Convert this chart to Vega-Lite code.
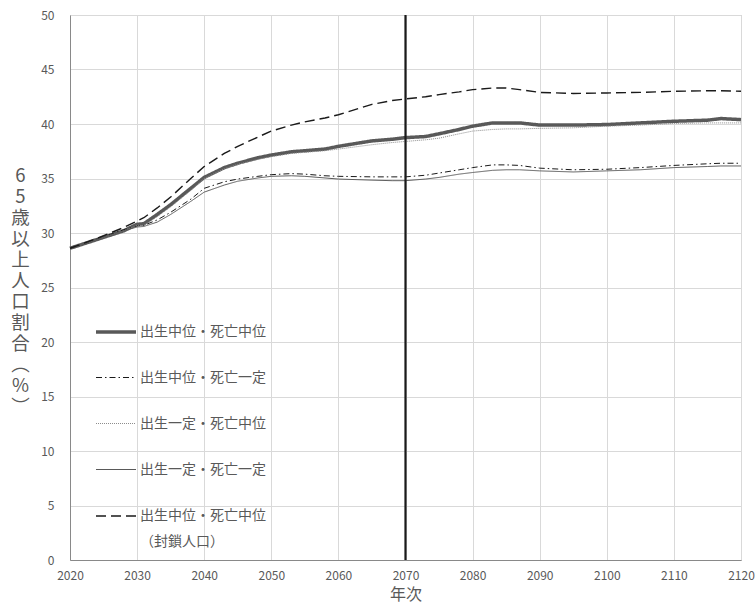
{
  "$schema": "https://vega.github.io/schema/vega-lite/v6.json",
  "width": 671,
  "height": 545,
  "autosize": "none",
  "padding": {"left": 70, "top": 15, "right": 14, "bottom": 46},
  "background": "white",
  "config": {
    "font": "Noto Sans CJK JP",
    "view": {"stroke": "#bfbfbf", "strokeWidth": 1},
    "axis": {"gridColor": "#d9d9d9", "gridWidth": 1, "domainColor": "#898989", "ticks": false, "labelColor": "#595959", "labelFont": "Noto Sans CJK JP", "labelFontSize": 12, "titleColor": "#595959", "titleFont": "Noto Sans CJK JP", "titleFontWeight": "normal"},
    "legend": {"labelFont": "Noto Sans CJK JP"}
  },
  "layer": [
    {
      "data": {"values": [
        {"year":2020,"series":"出生中位・死亡中位","value":28.6},{"year":2022,"series":"出生中位・死亡中位","value":29.0},{"year":2025,"series":"出生中位・死亡中位","value":29.6},{"year":2028,"series":"出生中位・死亡中位","value":30.2},{"year":2030,"series":"出生中位・死亡中位","value":30.8},{"year":2031,"series":"出生中位・死亡中位","value":30.85},{"year":2033,"series":"出生中位・死亡中位","value":31.7},{"year":2035,"series":"出生中位・死亡中位","value":32.6},{"year":2038,"series":"出生中位・死亡中位","value":34.1},{"year":2040,"series":"出生中位・死亡中位","value":35.1},{"year":2043,"series":"出生中位・死亡中位","value":36.0},{"year":2045,"series":"出生中位・死亡中位","value":36.4},{"year":2048,"series":"出生中位・死亡中位","value":36.9},{"year":2050,"series":"出生中位・死亡中位","value":37.15},{"year":2053,"series":"出生中位・死亡中位","value":37.45},{"year":2055,"series":"出生中位・死亡中位","value":37.55},{"year":2058,"series":"出生中位・死亡中位","value":37.7},{"year":2060,"series":"出生中位・死亡中位","value":37.95},{"year":2065,"series":"出生中位・死亡中位","value":38.45},{"year":2068,"series":"出生中位・死亡中位","value":38.6},{"year":2070,"series":"出生中位・死亡中位","value":38.75},{"year":2073,"series":"出生中位・死亡中位","value":38.85},{"year":2075,"series":"出生中位・死亡中位","value":39.1},{"year":2078,"series":"出生中位・死亡中位","value":39.5},{"year":2080,"series":"出生中位・死亡中位","value":39.8},{"year":2083,"series":"出生中位・死亡中位","value":40.1},{"year":2085,"series":"出生中位・死亡中位","value":40.1},{"year":2087,"series":"出生中位・死亡中位","value":40.1},{"year":2090,"series":"出生中位・死亡中位","value":39.9},{"year":2095,"series":"出生中位・死亡中位","value":39.9},{"year":2100,"series":"出生中位・死亡中位","value":39.95},{"year":2105,"series":"出生中位・死亡中位","value":40.1},{"year":2110,"series":"出生中位・死亡中位","value":40.25},{"year":2115,"series":"出生中位・死亡中位","value":40.35},{"year":2117,"series":"出生中位・死亡中位","value":40.5},{"year":2120,"series":"出生中位・死亡中位","value":40.4},
        {"year":2020,"series":"出生中位・死亡一定","value":28.6},{"year":2022,"series":"出生中位・死亡一定","value":29.0},{"year":2025,"series":"出生中位・死亡一定","value":29.65},{"year":2028,"series":"出生中位・死亡一定","value":30.3},{"year":2030,"series":"出生中位・死亡一定","value":30.65},{"year":2031,"series":"出生中位・死亡一定","value":30.7},{"year":2033,"series":"出生中位・死亡一定","value":31.2},{"year":2035,"series":"出生中位・死亡一定","value":31.9},{"year":2038,"series":"出生中位・死亡一定","value":33.1},{"year":2040,"series":"出生中位・死亡一定","value":34.1},{"year":2043,"series":"出生中位・死亡一定","value":34.7},{"year":2045,"series":"出生中位・死亡一定","value":34.95},{"year":2048,"series":"出生中位・死亡一定","value":35.2},{"year":2050,"series":"出生中位・死亡一定","value":35.35},{"year":2053,"series":"出生中位・死亡一定","value":35.45},{"year":2055,"series":"出生中位・死亡一定","value":35.4},{"year":2058,"series":"出生中位・死亡一定","value":35.25},{"year":2060,"series":"出生中位・死亡一定","value":35.2},{"year":2065,"series":"出生中位・死亡一定","value":35.15},{"year":2068,"series":"出生中位・死亡一定","value":35.15},{"year":2070,"series":"出生中位・死亡一定","value":35.15},{"year":2073,"series":"出生中位・死亡一定","value":35.3},{"year":2075,"series":"出生中位・死亡一定","value":35.5},{"year":2078,"series":"出生中位・死亡一定","value":35.8},{"year":2080,"series":"出生中位・死亡一定","value":36.0},{"year":2083,"series":"出生中位・死亡一定","value":36.25},{"year":2085,"series":"出生中位・死亡一定","value":36.25},{"year":2087,"series":"出生中位・死亡一定","value":36.2},{"year":2090,"series":"出生中位・死亡一定","value":35.95},{"year":2095,"series":"出生中位・死亡一定","value":35.8},{"year":2100,"series":"出生中位・死亡一定","value":35.85},{"year":2105,"series":"出生中位・死亡一定","value":36.0},{"year":2110,"series":"出生中位・死亡一定","value":36.2},{"year":2115,"series":"出生中位・死亡一定","value":36.35},{"year":2117,"series":"出生中位・死亡一定","value":36.4},{"year":2120,"series":"出生中位・死亡一定","value":36.4},
        {"year":2020,"series":"出生一定・死亡中位","value":28.6},{"year":2022,"series":"出生一定・死亡中位","value":29.0},{"year":2025,"series":"出生一定・死亡中位","value":29.6},{"year":2028,"series":"出生一定・死亡中位","value":30.2},{"year":2030,"series":"出生一定・死亡中位","value":30.7},{"year":2031,"series":"出生一定・死亡中位","value":30.7},{"year":2033,"series":"出生一定・死亡中位","value":31.5},{"year":2035,"series":"出生一定・死亡中位","value":32.4},{"year":2038,"series":"出生一定・死亡中位","value":33.9},{"year":2040,"series":"出生一定・死亡中位","value":35.0},{"year":2043,"series":"出生一定・死亡中位","value":35.9},{"year":2045,"series":"出生一定・死亡中位","value":36.3},{"year":2048,"series":"出生一定・死亡中位","value":36.75},{"year":2050,"series":"出生一定・死亡中位","value":37.0},{"year":2053,"series":"出生一定・死亡中位","value":37.3},{"year":2055,"series":"出生一定・死亡中位","value":37.4},{"year":2058,"series":"出生一定・死亡中位","value":37.55},{"year":2060,"series":"出生一定・死亡中位","value":37.7},{"year":2065,"series":"出生一定・死亡中位","value":38.1},{"year":2068,"series":"出生一定・死亡中位","value":38.3},{"year":2070,"series":"出生一定・死亡中位","value":38.4},{"year":2073,"series":"出生一定・死亡中位","value":38.55},{"year":2075,"series":"出生一定・死亡中位","value":38.7},{"year":2078,"series":"出生一定・死亡中位","value":39.1},{"year":2080,"series":"出生一定・死亡中位","value":39.35},{"year":2083,"series":"出生一定・死亡中位","value":39.5},{"year":2085,"series":"出生一定・死亡中位","value":39.55},{"year":2087,"series":"出生一定・死亡中位","value":39.55},{"year":2090,"series":"出生一定・死亡中位","value":39.6},{"year":2095,"series":"出生一定・死亡中位","value":39.65},{"year":2100,"series":"出生一定・死亡中位","value":39.8},{"year":2105,"series":"出生一定・死亡中位","value":39.9},{"year":2110,"series":"出生一定・死亡中位","value":40.05},{"year":2115,"series":"出生一定・死亡中位","value":40.1},{"year":2117,"series":"出生一定・死亡中位","value":40.1},{"year":2120,"series":"出生一定・死亡中位","value":40.1},
        {"year":2020,"series":"出生一定・死亡一定","value":28.6},{"year":2022,"series":"出生一定・死亡一定","value":29.0},{"year":2025,"series":"出生一定・死亡一定","value":29.6},{"year":2028,"series":"出生一定・死亡一定","value":30.2},{"year":2030,"series":"出生一定・死亡一定","value":30.55},{"year":2031,"series":"出生一定・死亡一定","value":30.6},{"year":2033,"series":"出生一定・死亡一定","value":31.0},{"year":2035,"series":"出生一定・死亡一定","value":31.7},{"year":2038,"series":"出生一定・死亡一定","value":32.9},{"year":2040,"series":"出生一定・死亡一定","value":33.75},{"year":2043,"series":"出生一定・死亡一定","value":34.4},{"year":2045,"series":"出生一定・死亡一定","value":34.75},{"year":2048,"series":"出生一定・死亡一定","value":35.05},{"year":2050,"series":"出生一定・死亡一定","value":35.2},{"year":2053,"series":"出生一定・死亡一定","value":35.25},{"year":2055,"series":"出生一定・死亡一定","value":35.2},{"year":2058,"series":"出生一定・死亡一定","value":35.05},{"year":2060,"series":"出生一定・死亡一定","value":34.95},{"year":2065,"series":"出生一定・死亡一定","value":34.85},{"year":2068,"series":"出生一定・死亡一定","value":34.8},{"year":2070,"series":"出生一定・死亡一定","value":34.8},{"year":2073,"series":"出生一定・死亡一定","value":34.95},{"year":2075,"series":"出生一定・死亡一定","value":35.1},{"year":2078,"series":"出生一定・死亡一定","value":35.4},{"year":2080,"series":"出生一定・死亡一定","value":35.55},{"year":2083,"series":"出生一定・死亡一定","value":35.75},{"year":2085,"series":"出生一定・死亡一定","value":35.8},{"year":2087,"series":"出生一定・死亡一定","value":35.8},{"year":2090,"series":"出生一定・死亡一定","value":35.7},{"year":2095,"series":"出生一定・死亡一定","value":35.6},{"year":2100,"series":"出生一定・死亡一定","value":35.7},{"year":2105,"series":"出生一定・死亡一定","value":35.8},{"year":2110,"series":"出生一定・死亡一定","value":36.0},{"year":2115,"series":"出生一定・死亡一定","value":36.1},{"year":2117,"series":"出生一定・死亡一定","value":36.15},{"year":2120,"series":"出生一定・死亡一定","value":36.15},
        {"year":2020,"series":"出生中位・死亡中位（封鎖人口）","value":28.6},{"year":2022,"series":"出生中位・死亡中位（封鎖人口）","value":29.05},{"year":2025,"series":"出生中位・死亡中位（封鎖人口）","value":29.75},{"year":2028,"series":"出生中位・死亡中位（封鎖人口）","value":30.5},{"year":2030,"series":"出生中位・死亡中位（封鎖人口）","value":31.1},{"year":2031,"series":"出生中位・死亡中位（封鎖人口）","value":31.4},{"year":2033,"series":"出生中位・死亡中位（封鎖人口）","value":32.3},{"year":2035,"series":"出生中位・死亡中位（封鎖人口）","value":33.3},{"year":2038,"series":"出生中位・死亡中位（封鎖人口）","value":35.0},{"year":2040,"series":"出生中位・死亡中位（封鎖人口）","value":36.1},{"year":2043,"series":"出生中位・死亡中位（封鎖人口）","value":37.3},{"year":2045,"series":"出生中位・死亡中位（封鎖人口）","value":37.95},{"year":2048,"series":"出生中位・死亡中位（封鎖人口）","value":38.8},{"year":2050,"series":"出生中位・死亡中位（封鎖人口）","value":39.35},{"year":2053,"series":"出生中位・死亡中位（封鎖人口）","value":39.9},{"year":2055,"series":"出生中位・死亡中位（封鎖人口）","value":40.2},{"year":2058,"series":"出生中位・死亡中位（封鎖人口）","value":40.55},{"year":2060,"series":"出生中位・死亡中位（封鎖人口）","value":40.85},{"year":2065,"series":"出生中位・死亡中位（封鎖人口）","value":41.8},{"year":2068,"series":"出生中位・死亡中位（封鎖人口）","value":42.15},{"year":2070,"series":"出生中位・死亡中位（封鎖人口）","value":42.3},{"year":2073,"series":"出生中位・死亡中位（封鎖人口）","value":42.5},{"year":2075,"series":"出生中位・死亡中位（封鎖人口）","value":42.7},{"year":2078,"series":"出生中位・死亡中位（封鎖人口）","value":42.95},{"year":2080,"series":"出生中位・死亡中位（封鎖人口）","value":43.15},{"year":2083,"series":"出生中位・死亡中位（封鎖人口）","value":43.3},{"year":2085,"series":"出生中位・死亡中位（封鎖人口）","value":43.3},{"year":2087,"series":"出生中位・死亡中位（封鎖人口）","value":43.15},{"year":2090,"series":"出生中位・死亡中位（封鎖人口）","value":42.9},{"year":2095,"series":"出生中位・死亡中位（封鎖人口）","value":42.8},{"year":2100,"series":"出生中位・死亡中位（封鎖人口）","value":42.85},{"year":2105,"series":"出生中位・死亡中位（封鎖人口）","value":42.9},{"year":2110,"series":"出生中位・死亡中位（封鎖人口）","value":43.0},{"year":2115,"series":"出生中位・死亡中位（封鎖人口）","value":43.05},{"year":2117,"series":"出生中位・死亡中位（封鎖人口）","value":43.05},{"year":2120,"series":"出生中位・死亡中位（封鎖人口）","value":43.0}
      ]},
      "mark": {"type": "line", "strokeCap": "butt", "strokeJoin": "round"},
      "encoding": {
        "x": {"field": "year", "type": "quantitative", "scale": {"domain": [2020, 2120], "nice": false, "zero": false},
          "axis": {"values": [2020,2030,2040,2050,2060,2070,2080,2090,2100,2110,2120], "format": "d", "labelPadding": 10, "labelFlush": false, "labelOverlap": false, "labelBound": false, "title": "年次", "titleFontSize": 16, "titlePadding": 5}},
        "y": {"field": "value", "type": "quantitative", "scale": {"domain": [0, 50], "nice": false},
          "axis": {"values": [0,5,10,15,20,25,30,35,40,45,50], "labelPadding": 16,
            "title": ["6","5","歳","以","上","人","口","割","合","︵","%","︶"],
            "titleAngle": 0, "titleFontSize": 18.5, "titleLineHeight": 21, "titleColor": "#595959", "titleAlign": "center", "titleBaseline": "top", "titleX": -50, "titleY": 151}},
        "color": {"field": "series", "type": "nominal",
          "scale": {"domain": ["出生中位・死亡中位","出生中位・死亡一定","出生一定・死亡中位","出生一定・死亡一定","出生中位・死亡中位（封鎖人口）"], "range": ["#595959","#1a1a1a","#8c8c8c","#595959","#1a1a1a"]},
          "legend": {"orient": "none", "legendX": 24, "legendY": 295, "title": null, "symbolType": "stroke", "symbolSize": 1600, "labelFontSize": 14, "labelColor": "#595959", "labelOffset": 2, "rowPadding": 18, "padding": 0, "labelLimit": 300,
            "labelExpr": "datum.label === '出生中位・死亡中位（封鎖人口）' ? ['出生中位・死亡中位', '（封鎖人口）'] : datum.label",
            "encode": {"labels": {"update": {"lineHeight": {"value": 26}}}}}},
        "strokeDash": {"field": "series", "type": "nominal",
          "scale": {"domain": ["出生中位・死亡中位","出生中位・死亡一定","出生一定・死亡中位","出生一定・死亡一定","出生中位・死亡中位（封鎖人口）"], "range": [[1,0],[6,3,1.5,3],[1,1],[1,0],[10,5]]}},
        "strokeWidth": {"field": "series", "type": "nominal",
          "scale": {"type": "ordinal", "domain": ["出生中位・死亡中位","出生中位・死亡一定","出生一定・死亡中位","出生一定・死亡一定","出生中位・死亡中位（封鎖人口）"], "range": [3.5,1,1,1,1.4]}}
      }
    },
    {
      "data": {"values": [{"year": 2070}]},
      "mark": {"type": "rule", "color": "#1a1a1a", "strokeWidth": 2.2},
      "encoding": {"x": {"field": "year", "type": "quantitative"}}
    }
  ]
}
